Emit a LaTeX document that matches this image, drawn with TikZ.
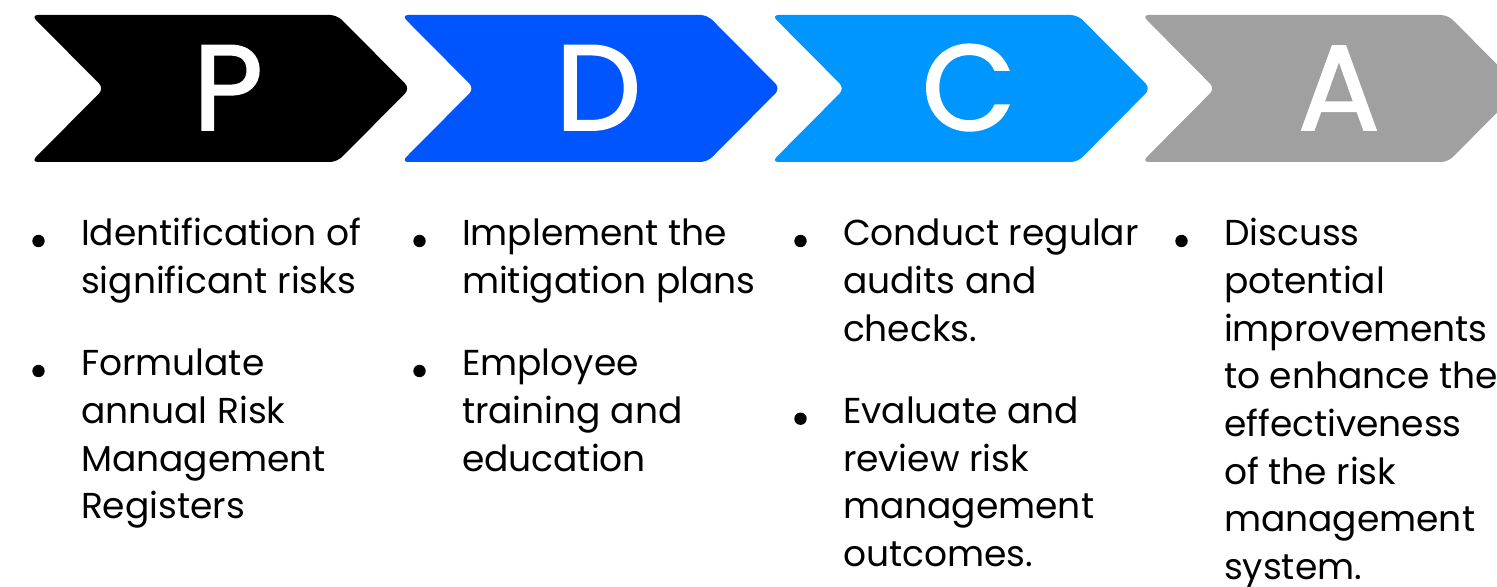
\documentclass[tikz,border=0pt]{standalone}
\usepackage{fontspec}
\setmainfont{Poppins}
\newfontfamily\phasefont[FakeBold=1.6]{Poppins}
\usepackage{tikz}
\usetikzlibrary{positioning}
\definecolor{pdcaBlue}{RGB}{0,85,255}
\definecolor{pdcaSky}{RGB}{0,150,255}
\definecolor{pdcaGrey}{RGB}{160,160,160}
% lines of one bullet, baseline on the first line
\newcommand{\bulletlines}[1]{\begin{tabular}[t]{@{}l@{}}#1\end{tabular}}

\begin{document}
\begin{tikzpicture}[x=0.02cm, y=-0.02cm,
  every node/.style={inner sep=0pt, outer sep=0pt},
  phase/.style={text=white, font=\phasefont\fontsize{69}{69}\selectfont, anchor=base},
  item/.style={anchor=base west, font=\fontsize{20.5}{27.1}\selectfont}]
  \useasboundingbox (0,0) rectangle (1497,587);
  % the four chevrons with their letters
  \foreach \i/\col/\ltr in {0/black/P,1/pdcaBlue/D,2/pdcaSky/C,3/pdcaGrey/A}{
    \pgfmathsetmacro{\xo}{31+370.3*\i}
    \fill[\col, rounded corners=4pt] (\xo,15) -- ++(306,0) -- ++(73,73.5) -- ++(-73,73.5)
      -- ++(-306,0) -- ++(73,-73.5) -- cycle;
    \node[phase] (ltr\ltr) at (\xo+197,130) {\ltr};
  }
  % bullet lists
  \node[item] (p1) at (81,246) {\bulletlines{Identification of\\significant risks}};
  \node[item] (p2) at (81,376) {\bulletlines{Formulate\\annual Risk\\Management\\Registers}};
  \node[item] (d1) at (462,246) {\bulletlines{Implement the\\mitigation plans}};
  \node[item] (d2) at (462,376) {\bulletlines{Employee\\training and\\education}};
  \node[item] (c1) at (843,246) {\bulletlines{Conduct regular\\audits and\\checks.}};
  \node[item] (c2) at (843,423.7) {\bulletlines{Evaluate and\\review risk\\management\\outcomes.}};
  \node[item] (a1) at (1224,246) {\bulletlines{Discuss\\potential\\improvements\\to enhance the\\effectiveness\\of the risk\\management\\system.}};
  \foreach \n in {p1,p2,d1,d2,c1,c2,a1}
    \fill ([shift={(-42.5,-5)}]\n.base west) circle (6.2);
\end{tikzpicture}
\end{document}
